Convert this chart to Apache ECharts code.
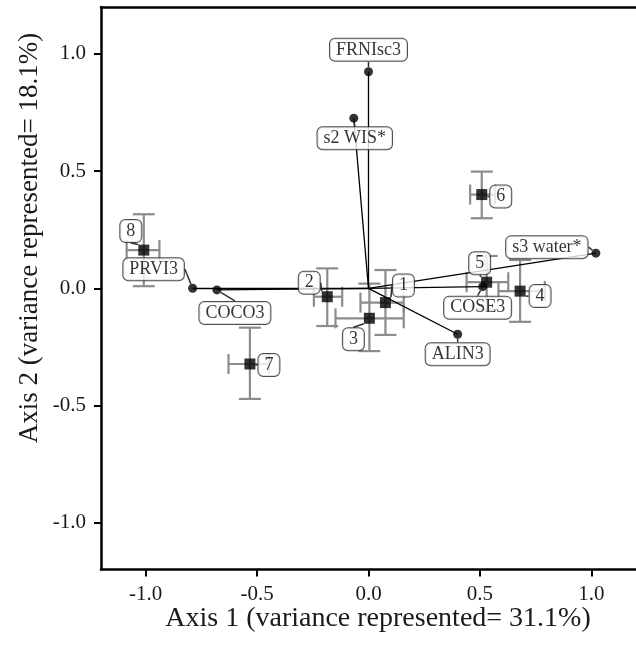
<!DOCTYPE html>
<html>
<head>
<meta charset="utf-8">
<script src="https://cdn.jsdelivr.net/npm/echarts@6/dist/echarts.min.js"></script>
<style>
  html, body { margin: 0; padding: 0; background: #fff; }
  #chart { width: 636px; height: 648px; }
</style>
</head>
<body>
<div id="chart"></div>
<script>
// ---- ordination: group centroids (with error bars) + species vectors ----
const groupNames = ['1', '2', '3', '4', '5', '6', '7', '8']
const groupX = [0.076, -0.185, 0.004, 0.68, 0.53, 0.508, -0.532, -1.008]
const groupY = [-0.061, -0.036, -0.128, -0.012, 0.026, 0.40, -0.323, 0.163]
const groupXLow = [-0.036, -0.245, -0.148, 0.583, 0.44, 0.456, -0.628, -1.085]
const groupXHigh = [0.158, -0.118, 0.158, 0.791, 0.627, 0.568, -0.447, -0.938]
const groupYLow = [-0.199, -0.161, -0.268, -0.143, -0.092, 0.299, -0.472, 0.009]
const groupYHigh = [0.078, 0.085, 0.02, 0.121, 0.138, 0.498, -0.168, 0.316]

const speciesNames = ['FRNIsc3', 's2 WIS*', 's3 water*', 'COSE3', 'ALIN3', 'PRVI3', 'COCO3']
const speciesX = [0.0, -0.066, 1.02, 0.512, 0.40, -0.789, -0.68]
const speciesY = [0.924, 0.726, 0.15, 0.007, -0.196, 0.0, -0.007]

const tickValues = [-1.0, -0.5, 0.0, 0.5, 1.0]

// label nudges in px (like ggrepel)
const labelNudge = {
  '1': [18, -17], '2': [-18, -14], '3': [-16, 21], '4': [20, 5],
  '5': [-7, -19], '6': [19, 2], '7': [19, 1], '8': [-13, -19],
  'FRNIsc3': [0, -22], 's2 WIS*': [1, 20], 's3 water*': [-49, -6],
  'COSE3': [-5, 21], 'ALIN3': [0, 20], 'PRVI3': [-39, -19], 'COCO3': [18, 23],
}

const FONT = '"Liberation Serif", "DejaVu Serif", serif'
const ERR_COLOR = '#8c8c8c'

const chart = echarts.init(document.getElementById('chart'))

const labelBox = {
  show: true,
  position: 'inside',
  formatter: (p) => p.name,
  fontFamily: FONT,
  fontSize: 18,
  lineHeight: 18,
  color: '#000',
  backgroundColor: '#fff',
  borderColor: '#222',
  borderWidth: 1,
  borderRadius: 5,
  padding: [2, 6],
}

function nudge(params) {
  const n = labelNudge[params.text] || [0, 0]
  return { dx: n[0], dy: n[1] }
}

function renderErrorBar(params, api) {
  const x = api.value(0)
  const y = api.value(1)
  const c = api.coord([x, y])
  const xl = api.coord([api.value(2), y])
  const xh = api.coord([api.value(3), y])
  const yl = api.coord([x, api.value(4)])
  const yh = api.coord([x, api.value(5)])
  const capH = 10
  const capV = 11
  const style = { stroke: ERR_COLOR, lineWidth: 2.2 }
  const seg = (x1, y1, x2, y2) => ({ type: 'line', shape: { x1, y1, x2, y2 }, style })
  return {
    type: 'group',
    children: [
      seg(xl[0], c[1], xh[0], c[1]),
      seg(xl[0], c[1] - capH, xl[0], c[1] + capH),
      seg(xh[0], c[1] - capH, xh[0], c[1] + capH),
      seg(c[0], yl[1], c[0], yh[1]),
      seg(c[0] - capV, yl[1], c[0] + capV, yl[1]),
      seg(c[0] - capV, yh[1], c[0] + capV, yh[1]),
    ],
  }
}

function valueAxis(extra) {
  return Object.assign({
    type: 'value',
    min: -1.2,
    max: 1.2,
    splitLine: { show: false },
    axisLine: { show: true, onZero: false, lineStyle: { color: '#000', width: 2.5 } },
    axisTick: { show: true, inside: false, length: 7, customValues: tickValues, lineStyle: { color: '#000', width: 2 } },
    axisLabel: {
      customValues: tickValues,
      formatter: (v) => v.toFixed(1),
      fontFamily: FONT,
      fontSize: 21,
      color: '#1a1a1a',
      margin: 14,
    },
  }, extra)
}

chart.setOption({
  backgroundColor: '#fff',
  animation: false,
  grid: { left: 101, top: 7.1, width: 537, height: 562.4 },
  xAxis: [
    valueAxis({}),
    // top frame line only
    valueAxis({ position: 'top', axisTick: { show: false }, axisLabel: { show: false } }),
  ],
  yAxis: valueAxis({ axisLabel: {
    customValues: tickValues, formatter: (v) => v.toFixed(1),
    fontFamily: FONT, fontSize: 21, color: '#1a1a1a', margin: 15,
  } }),
  graphic: [
    {
      type: 'text', x: 378, y: 619,
      style: {
        text: 'Axis 1 (variance represented= 31.1%)',
        fontFamily: FONT, fontSize: 28, fill: '#1a1a1a',
        align: 'center', verticalAlign: 'middle',
      },
    },
    {
      type: 'text', x: 30, y: 238, rotation: Math.PI / 2,
      style: {
        text: 'Axis 2 (variance represented= 18.1%)',
        fontFamily: FONT, fontSize: 27, fill: '#1a1a1a',
        align: 'center', verticalAlign: 'middle',
      },
    },
  ],
  series: [
    {
      type: 'custom',
      z: 1,
      renderItem: renderErrorBar,
      data: groupNames.map((n, i) => [groupX[i], groupY[i], groupXLow[i], groupXHigh[i], groupYLow[i], groupYHigh[i]]),
      encode: { x: [0, 2, 3], y: [1, 4, 5] },
      silent: true,
    },
    {
      type: 'lines',
      coordinateSystem: 'cartesian2d',
      z: 2,
      lineStyle: { color: '#000', width: 1.3, opacity: 1 },
      data: speciesNames.map((n, i) => ({ coords: [[0, 0], [speciesX[i], speciesY[i]]] })),
      silent: true,
    },
    {
      type: 'scatter',
      z: 3,
      symbol: 'rect',
      symbolSize: 11,
      itemStyle: { color: '#000' },
      data: groupNames.map((n, i) => ({ name: n, value: [groupX[i], groupY[i]] })),
      label: labelBox,
      labelLayout: nudge,
      labelLine: { show: true, lineStyle: { color: '#333', width: 1.5 } },
    },
    {
      type: 'scatter',
      z: 3,
      symbol: 'circle',
      symbolSize: 9,
      itemStyle: { color: '#000' },
      data: speciesNames.map((n, i) => ({ name: n, value: [speciesX[i], speciesY[i]] })),
      label: labelBox,
      labelLayout: nudge,
      labelLine: { show: true, lineStyle: { color: '#333', width: 1.5 } },
    },
  ],
})
</script>
</body>
</html>
